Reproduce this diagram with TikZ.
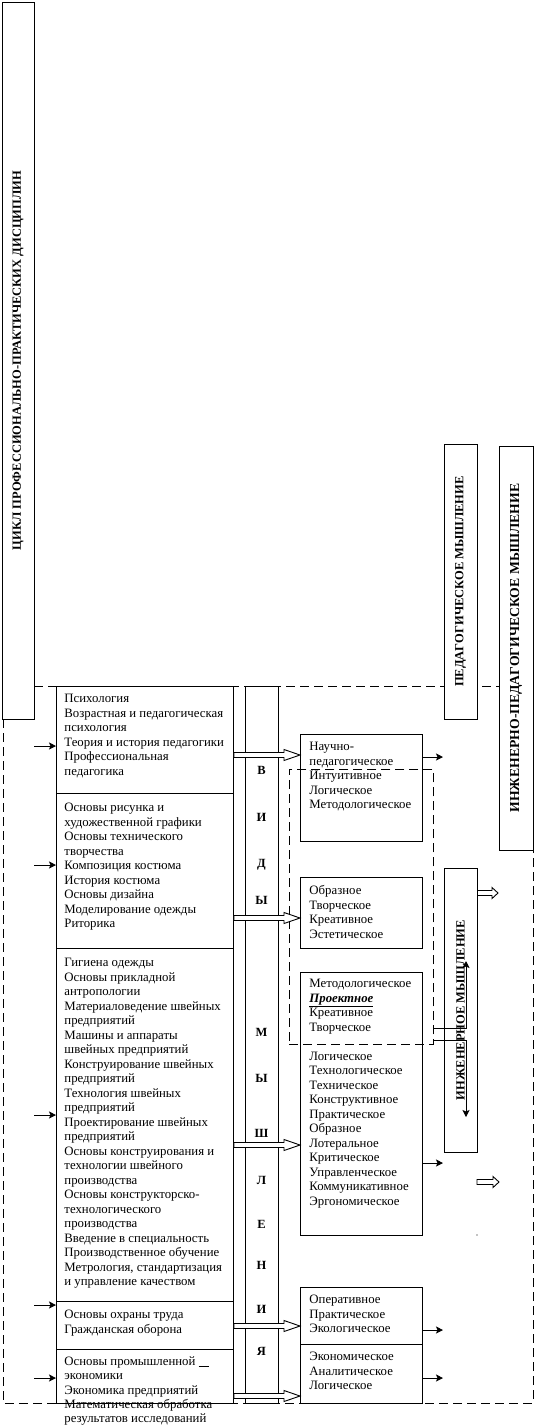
\documentclass[tikz,border=0pt]{standalone}
\usepackage{fontspec}
\setmainfont{Liberation Serif}
\usetikzlibrary{calc, arrows.meta}

% hollow block arrow: #2 start, #3 end (same height), #1 head length
\newcommand{\fatarrow}[3][16pt]{%
  \draw[fill=white] let \p1=#2, \p2=#3 in
    (\x1,\y1+2.5pt) -- (\x2-#1,\y1+2.5pt) -- (\x2-#1,\y1+5.5pt) -- (\x2,\y1)
    -- (\x2-#1,\y1-5.5pt) -- (\x2-#1,\y1-2.5pt) -- (\x1,\y1-2.5pt) -- cycle;}

\begin{document}
\begin{tikzpicture}[x=1pt, y=-1pt, line width=0.9pt,
    box/.style={draw, inner sep=0pt, anchor=north west},
    vbox/.style={draw, fill=white, rotate=90, inner sep=0pt, font=\bfseries\fontsize{12.5}{14}\selectfont},
    txt/.style={anchor=north west, inner sep=0pt, align=left, font=\fontsize{12.8}{14.5}\selectfont},
    letter/.style={inner sep=0pt, text height=8pt, text depth=0pt, font=\bfseries\fontsize{12.5}{14}\selectfont},
    frame/.style={dash pattern=on 9pt off 5pt},
    feed/.style={-{Stealth[length=7pt, width=7pt, inset=1.5pt]}}]

    \useasboundingbox (0,0) rectangle (534,1425);

    % Dashed outer frame
    \draw[frame] (34,686) -- (533,686);
    \draw[frame] (3,719) -- (3,1403) -- (533,1403) -- (533,850);

    % Vertical headings
    \node[vbox, minimum width=717pt, minimum height=32pt] (cycle) at (18,360.5) {ЦИКЛ ПРОФЕССИОНАЛЬНО-ПРАКТИЧЕСКИХ ДИСЦИПЛИН};
    \node[vbox, minimum width=275pt, minimum height=33pt] (ped) at (460.5,581.5) {ПЕДАГОГИЧЕСКОЕ МЫШЛЕНИЕ};
    \node[vbox, minimum width=404pt, minimum height=34pt, font=\bfseries\fontsize{13.7}{15}\selectfont] (engped) at (516,648) {ИНЖЕНЕРНО-ПЕДАГОГИЧЕСКОЕ МЫШЛЕНИЕ};
    \node[vbox, minimum width=284pt, minimum height=33pt] (eng) at (460.5,1010) {ИНЖЕНЕРНОЕ МЫШЛЕНИЕ};

    % Discipline boxes
    \node[box, minimum width=177pt, minimum height=107pt] (d1) at (56,686) {};
    \node[box, minimum width=177pt, minimum height=155pt] (d2) at (56,793) {};
    \node[box, minimum width=177pt, minimum height=353pt] (d3) at (56,948) {};
    \node[box, minimum width=177pt, minimum height=48pt] (d4) at (56,1301) {};
    \node[box, minimum width=177pt, minimum height=54pt] (d5) at (56,1349) {};

    % Column "types of thinking"
    \node[box, minimum width=33pt, minimum height=717pt] (kinds) at (245,686) {};

    % Thinking boxes
    \node[box, minimum width=122pt, minimum height=107pt] (sci) at (300,734) {};
    \node[box, minimum width=122pt, minimum height=71pt] (art) at (300,877) {};
    \node[box, minimum width=122pt, minimum height=263pt] (tech) at (300,972) {};
    \node[box, minimum width=122pt, minimum height=57pt] (oper) at (300,1287) {};
    \node[box, minimum width=122pt, minimum height=59pt] (econ) at (300,1344) {};

    % Dashed group
    \node[box, frame, minimum width=144pt, minimum height=275pt] (grp) at (289,769) {};

    % Discipline texts
    \node[txt] (d1t) at ([shift={(8,8)}]d1.north west) {Психология\\Возрастная и педагогическая\\психология\\Теория и история педагогики\\Профессиональная\\педагогика};
    \node[txt] (d2t) at ([shift={(8,10)}]d2.north west) {Основы рисунка и\\художественной графики\\Основы технического\\творчества\\Композиция костюма\\История костюма\\Основы дизайна\\Моделирование одежды\\Риторика};
    \node[txt] (d3t) at ([shift={(8,10)}]d3.north west) {Гигиена одежды\\Основы прикладной\\антропологии\\Материаловедение швейных\\предприятий\\Машины и аппараты\\швейных предприятий\\Конструирование швейных\\предприятий\\Технология швейных\\предприятий\\Проектирование швейных\\предприятий\\Основы конструирования и\\технологии швейного\\производства\\Основы конструкторско-\\технологического\\производства\\Введение в специальность\\Производственное обучение\\Метрология, стандартизация\\и управление качеством};
    \node[txt] (d4t) at ([shift={(8,9)}]d4.north west) {Основы охраны труда\\Гражданская оборона};
    \node[txt, font=\fontsize{12.8}{14.2}\selectfont] (d5t) at ([shift={(8,7.5)}]d5.north west) {Основы промышленной \rule[-1pt]{10pt}{0.8pt}\\экономики\\Экономика предприятий\\Математическая обработка\\результатов исследований};

    % Letters of the column
    \node[letter] (k1) at (261.5,770) {В};
    \node[letter] (k2) at (261.5,817) {И};
    \node[letter] (k3) at (261.5,863) {Д};
    \node[letter] (k4) at (261.5,900) {Ы};
    \node[letter] (k5) at (261.5,1032) {М};
    \node[letter] (k6) at (261.5,1078) {Ы};
    \node[letter] (k7) at (261.5,1133) {Ш};
    \node[letter] (k8) at (261.5,1180) {Л};
    \node[letter] (k9) at (261.5,1224) {Е};
    \node[letter] (k10) at (261.5,1265) {Н};
    \node[letter] (k11) at (261.5,1309) {И};
    \node[letter] (k12) at (261.5,1351) {Я};

    % Thinking texts
    \node[txt] (scit) at ([shift={(9,8)}]sci.north west) {Научно-\\педагогическое\\Интуитивное\\Логическое\\Методологическое};
    \node[txt] (artt) at ([shift={(9,8)}]art.north west) {Образное\\Творческое\\Креативное\\Эстетическое};
    \node[txt] (techt) at ([shift={(9,7)}]tech.north west) {Методологическое\\\underline{\textbf{\textit{Проектное}}}\\Креативное\\Творческое\\[14.5pt]Логическое\\Технологическое\\Техническое\\Конструктивное\\Практическое\\Образное\\Лотеральное\\Критическое\\Управленческое\\Коммуникативное\\Эргономическое};
    \node[txt] (opert) at ([shift={(9,8)}]oper.north west) {Оперативное\\Практическое\\Экологическое};
    \node[txt] (econt) at ([shift={(9,8)}]econ.north west) {Экономическое\\Аналитическое\\Логическое};

    % Incoming arrows
    \coordinate (f1) at (34,746);
    \coordinate (f2) at (34,865);
    \coordinate (f3) at (34,1115);
    \coordinate (f4) at (34,1305);
    \coordinate (f5) at (34,1378);
    \draw[feed] (f1) -- (f1 -| d1.west);
    \draw[feed] (f2) -- (f2 -| d2.west);
    \draw[feed] (f3) -- (f3 -| d3.west);
    \draw[feed] (f4) -- (f4 -| d4.west);
    \draw[feed] (f5) -- (f5 -| d5.west);

    % Hollow arrows disciplines -> thinking
    \fatarrow{(d1.east |- 0,755)}{(sci.west |- 0,755)}
    \fatarrow{(d2.east |- 0,918)}{(art.west |- 0,918)}
    \fatarrow{(d3.east |- 0,1145)}{(tech.west |- 0,1145)}
    \fatarrow{(d4.east |- 0,1326)}{(oper.west |- 0,1326)}
    \fatarrow{(d5.east |- 0,1396)}{(econ.west |- 0,1396)}

    % Outgoing arrows
    \coordinate (g1) at (443,757);
    \coordinate (g2) at (443,1163);
    \coordinate (g3) at (443,1330);
    \coordinate (g4) at (443,1378);
    \draw[feed] (g1 -| sci.east) -- (g1);
    \draw[feed] (g2 -| tech.east) -- (g2);
    \draw[feed] (g3 -| oper.east) -- (g3);
    \draw[feed] (g4 -| econ.east) -- (g4);

    % Group -> engineering thinking
    \coordinate (up) at (466,961);
    \coordinate (down) at (466,1117);
    \draw[feed] (grp.east |- 0,1028) -| (up);
    \draw[feed] (grp.east |- 0,1040) -| (down);

    % Small hollow arrows on the right
    \coordinate (r1) at (498,893);
    \coordinate (r2) at (499,1182);
    \fatarrow[6pt]{(eng.south |- r1)}{(r1)}
    \fatarrow[6pt]{(477,1182)}{(r2)}
    \fill (477,1235) circle (0.6pt);

\end{tikzpicture}
\end{document}
